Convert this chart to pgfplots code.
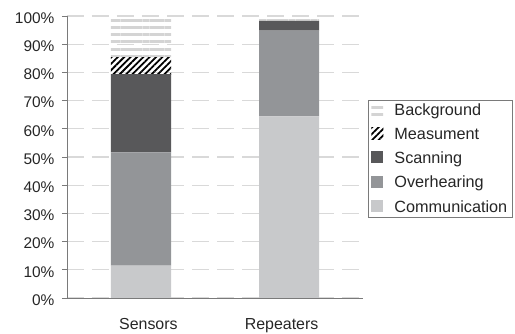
\documentclass[border=0pt]{standalone}
\usepackage{pgfplots}
\pgfplotsset{compat=1.18}
\usepackage{fontspec}
\setmainfont{Liberation Sans}
\usetikzlibrary{patterns.meta}
\definecolor{comm}{HTML}{C8C9CB}
\definecolor{overh}{HTML}{939598}
\definecolor{scan}{HTML}{58585A}
\definecolor{bgline}{HTML}{D4D4D4}
\definecolor{axgray}{HTML}{7A7A7A}
\definecolor{gridgray}{HTML}{D9D9D9}
\newcommand{\ff}{\fontsize{16}{18}\selectfont}
\newcommand{\fl}{\fontsize{16.3}{18}\selectfont}
\newcommand{\fy}{\fontsize{15.5}{18}\selectfont}
\begin{document}
\begin{tikzpicture}
\begin{axis}[
  scale only axis,
  width=296bp, height=282bp,
  ybar stacked,
  bar width=60bp,
  xmin=-0.5, xmax=1.5,
  ymin=0, ymax=100,
  xtick={0.05,0.95},
  xticklabels={Sensors,Repeaters},
  xtick style={draw=none},
  extra x ticks={0.5},
  extra x tick labels={},
  extra x tick style={tick style={draw=axgray, line width=0.8bp}, major tick length=4bp},
  ytick={0,10,...,100},
  yticklabel={\pgfmathprintnumber{\tick}\%},
  ytick style={draw=axgray, line width=0.8bp},
  tick align=outside,
  major tick length=5bp,
  /pgf/number format/assume math mode=true,
  tick label style={text=black!85},
  xticklabel style={font=\ff, yshift=-12bp},
  yticklabel style={font=\fy, xshift=-4bp, yshift=-2bp},
  axis x line*=bottom,
  axis y line*=left,
  axis line style={draw=axgray, line width=0.9bp, -},
  ymajorgrids,
  grid style={draw=gridgray, line width=1.3bp, dash pattern=on 17bp off 8bp},
  reverse legend,
  legend cell align=left,
  legend style={at={(axis description cs:1.017,0.702)}, anchor=north west,
    draw=axgray, line width=0.8bp, font=\fl, text=black!85,
    inner xsep=3bp, inner ysep=1.5bp, row sep=7bp, column sep=9bp},
  legend image code/.code={\draw[#1, draw=none] (0bp,-5bp) rectangle (12bp,7bp);},
]
\addplot+[fill=comm, draw=none] coordinates {(0,11.5) (1,64.4)};
\addplot+[fill=overh, draw=none] coordinates {(0,40.1) (1,30.4)};
\addplot+[fill=scan, draw=none] coordinates {(0,27.8) (1,3.5)};
\addplot+[draw=none, fill=white, pattern={Lines[angle=45,distance=4.5bp,line width=1.8bp]}, pattern color=black] coordinates {(0,6.0) (1,0)};
\addplot+[draw=none, fill=white, pattern={Lines[angle=0,distance=7.3bp,line width=3bp]}, pattern color=bgline] coordinates {(0,13.6) (1,0.7)};
\legend{Communication,Overhearing,Scanning,Measument,Background}
\end{axis}
\pgfresetboundingbox
\path (-67bp,-36bp) rectangle (448bp,298bp);
\end{tikzpicture}
\end{document}
